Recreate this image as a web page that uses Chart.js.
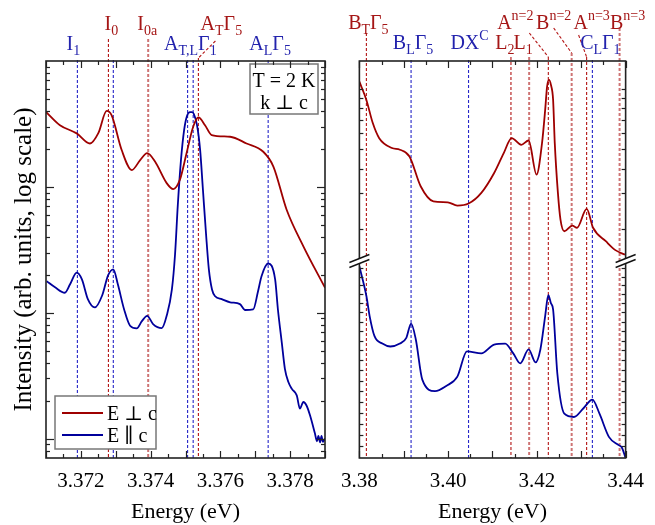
<!DOCTYPE html>
<html>
<head>
<meta charset="utf-8">
<script src="https://cdn.jsdelivr.net/npm/chart.js@4.4.1/dist/chart.umd.min.js"></script>
<style>
  html, body { margin: 0; padding: 0; background: #fff; }
  #wrap { position: relative; width: 655px; height: 525px; font-family: "Liberation Serif", "DejaVu Serif", serif; }
  canvas { position: absolute; top: 0; }
  #left { left: 0; }
  #right { left: 330px; }
</style>
</head>
<body>
<div id="wrap">
  <canvas id="left" width="330" height="525"></canvas>
  <canvas id="right" width="325" height="525"></canvas>
</div>
<script>
// Left panel, E perp c (red)
const leftEPerp = [3.3710, 3.3714, 3.37188, 3.37226, 3.3725, 3.37274, 3.37288, 3.37317, 3.37346, 3.3737, 3.3739, 3.37413, 3.37446, 3.37465, 3.37484, 3.37503, 3.37522, 3.37537, 3.37556, 3.37575, 3.37628, 3.37675, 3.37723, 3.37752, 3.3779, 3.37838, 3.379];
const leftIPerp = [394, 309, 266, 221, 267, 401, 371, 196, 136, 163, 185, 158, 107, 96, 114, 185, 300, 356, 309, 258, 250, 221, 190, 145, 65.8, 33.7, 15.8];

// Left panel, E parallel c (blue)
const leftEPar = [3.37102, 3.37126, 3.37154, 3.37169, 3.37188, 3.37203, 3.3722, 3.3724, 3.37261, 3.37278, 3.37293, 3.37306, 3.37324, 3.37341, 3.3736, 3.37375, 3.3739, 3.37407, 3.37432, 3.37446, 3.37461, 3.3747, 3.37478, 3.37487, 3.37496, 3.37504, 3.37513, 3.37519, 3.37524, 3.37533, 3.37542, 3.3755, 3.37559, 3.37567, 3.37576, 3.37585, 3.37604, 3.37628, 3.37656, 3.37671, 3.37694, 3.37708, 3.37718, 3.37737, 3.37757, 3.37765, 3.37776, 3.37785, 3.37795, 3.37805, 3.37819, 3.37828, 3.37838, 3.37847, 3.37857, 3.37871, 3.37877, 3.37881, 3.37886, 3.3789, 3.37894, 3.379];
const leftIPar = [17.8, 15.9, 14.4, 16.8, 20.8, 18.4, 12.8, 11.0, 13.7, 19.8, 22.1, 16.8, 10.6, 7.87, 7.50, 8.56, 9.44, 8.12, 7.54, 9.44, 15.3, 29.0, 72.1, 163, 282, 364, 392, 392, 378, 309, 196, 94.7, 41.8, 22.1, 15.3, 13.5, 12.8, 12.1, 11.7, 10.5, 10.6, 14.8, 19.5, 24.6, 18.4, 10.6, 5.81, 3.58, 2.81, 2.48, 2.20, 1.73, 1.95, 1.83, 1.53, 1.10, 0.95, 1.05, 0.93, 1.05, 0.94, 1.0];

// Right panel, E perp c (red, upper part of the broken axis)
const rightEPerp = [3.3800, 3.38158, 3.38302, 3.38447, 3.38734, 3.38913, 3.39129, 3.39381, 3.39668, 3.39992, 3.40208, 3.40461, 3.40748, 3.41037, 3.41253, 3.41432, 3.41648, 3.41814, 3.41993, 3.42116, 3.42187, 3.4223, 3.42273, 3.42317, 3.42366, 3.42403, 3.42474, 3.42532, 3.42619, 3.42798, 3.42906, 3.43122, 3.43266, 3.43553, 3.43769, 3.43985];
const rightIPerp = [1090, 883, 676, 568, 507, 497, 460, 326, 274, 271, 261, 267, 302, 380, 478, 568, 526, 553, 373, 536, 787, 1030, 1112, 1050, 883, 538, 302, 222, 194, 207, 202, 251, 202, 173, 156, 148];

// Right panel, E parallel c (blue, lower part)
const rightEPar = [3.38, 3.38158, 3.38231, 3.38339, 3.38518, 3.38697, 3.38913, 3.39058, 3.39166, 3.39273, 3.39418, 3.39705, 3.39958, 3.40208, 3.40424, 3.40748, 3.41037, 3.41287, 3.41468, 3.41626, 3.41814, 3.41971, 3.42079, 3.42187, 3.42258, 3.42317, 3.42366, 3.42461, 3.42619, 3.42835, 3.4305, 3.43251, 3.43411, 3.43627, 3.43843, 3.43914, 3.44];
const rightIPar = [69.2, 65.8, 63.6, 61.5, 60.7, 60.4, 60.7, 61.3, 62.8, 61.1, 57.1, 56.0, 56.5, 57.4, 59.9, 59.7, 60.6, 60.7, 59.7, 58.7, 60.1, 58.8, 60.1, 63.6, 65.9, 65.0, 64.3, 57.7, 53.9, 53.6, 54.4, 55.2, 53.9, 51.8, 51.1, 50.9, 50.0];

// tick labels and tick values
const leftXLabels = [3.372, 3.374, 3.376, 3.378];
const rightXLabels = [3.38, 3.40, 3.42, 3.44];
const leftYMajor = [1, 10, 100, 1000];
const rightTopTicks = [200, 300, 400, 500, 600, 700, 800, 900, 1000];
const rightBotTicks = [50, 51, 52, 53, 54, 55, 56, 57, 58, 59, 60, 61, 62, 63, 64, 65, 66, 67, 68, 69, 70];

// transition energies (dashed lines) and their labels
// kind: b = blue, r = dark red, p = pale red
const leftLines = [
  { e: 3.37190, kind: 'b', top: 60 },
  { e: 3.37279, kind: 'r', top: 39 },
  { e: 3.37293, kind: 'b', top: 60 },
  { e: 3.37393, kind: 'p', top: 39 },
  { e: 3.37506, kind: 'b', top: 60 },
  { e: 3.37522, kind: 'b', top: 60 },
  { e: 3.37537, kind: 'r', top: 58, lead: [17, 41] },
  { e: 3.37737, kind: 'b', top: 60 }
];
const leftLabels = [
  { e: 3.37190, dx: -4, y: 50, c: 'b', parts: [['I', 0], ['1', -1]] },
  { e: 3.37279, dx: 3, y: 30, c: 'r', parts: [['I', 0], ['0', -1]] },
  { e: 3.37393, dx: -1, y: 30, c: 'r', parts: [['I', 0], ['0a', -1]] },
  { e: 3.37514, dx: 0, y: 50, c: 'b', parts: [['A', 0], ['T,L', -1], ['Γ', 0], ['1', -1]] },
  { e: 3.37537, dx: 23, y: 30, c: 'r', parts: [['A', 0], ['T', -1], ['Γ', 0], ['5', -1]] },
  { e: 3.37737, dx: 2, y: 50, c: 'b', parts: [['A', 0], ['L', -1], ['Γ', 0], ['5', -1]] }
];
const rightLines = [
  { e: 3.38158, kind: 'r', top: 33 },
  { e: 3.39165, kind: 'b', top: 60 },
  { e: 3.40460, kind: 'b', top: 60 },
  { e: 3.41416, kind: 'r', top: 57 },
  { e: 3.41826, kind: 'p', top: 57 },
  { e: 3.42258, kind: 'r', top: 57, lead: [-19, 33] },
  { e: 3.42784, kind: 'p', top: 53, lead: [-18, 28] },
  { e: 3.43121, kind: 'r', top: 57, lead: [-8, 35] },
  { e: 3.43251, kind: 'b', top: 60 },
  { e: 3.43864, kind: 'p', top: 28 }
];
const rightLabels = [
  { e: 3.38158, dx: 2, y: 29, c: 'r', parts: [['B', 0], ['T', -1], ['Γ', 0], ['5', -1]] },
  { e: 3.39165, dx: 2, y: 49, c: 'b', parts: [['B', 0], ['L', -1], ['Γ', 0], ['5', -1]] },
  { e: 3.40460, dx: 1, y: 49, c: 'b', parts: [['DX', 0], ['C', 1]] },
  { e: 3.41416, dx: -6, y: 49, c: 'r', parts: [['L', 0], ['2', -1]] },
  { e: 3.41826, dx: -6, y: 49, c: 'r', parts: [['L', 0], ['1', -1]] },
  { e: 3.42258, dx: -33, y: 29, c: 'r', parts: [['A', 0], ['n=2', 1]] },
  { e: 3.42784, dx: -18, y: 29, c: 'r', parts: [['B', 0], ['n=2', 1]] },
  { e: 3.43121, dx: 5, y: 29, c: 'r', parts: [['A', 0], ['n=3', 1]] },
  { e: 3.43251, dx: 8, y: 49, c: 'b', parts: [['C', 0], ['L', -1], ['Γ', 0], ['1', -1]] },
  { e: 3.43864, dx: 8, y: 29, c: 'r', parts: [['B', 0], ['n=3', 1]] }
];

const RED = '#9e0000';
const BLUE = '#00009c';
const LABEL_COL = { r: '#a51616', b: '#2323ad' };
const LINE_STYLE = {
  b: { color: '#2626c8', width: 1.1, dash: [3, 2] },
  r: { color: '#b31515', width: 1.1, dash: [3, 2] },
  p: { color: 'rgba(190, 70, 70, 0.75)', width: 2, dash: [3, 2] }
};
const SERIF = '"Liberation Serif", "DejaVu Serif", serif';
Chart.defaults.font.family = SERIF;
Chart.defaults.color = '#000';

function richText(ctx, cx, y, parts, color) {
  let w = 0;
  parts.forEach(([t, k]) => {
    ctx.font = (k === 0 ? 20 : 14) + 'px ' + SERIF;
    w += ctx.measureText(t).width;
  });
  let x = cx - w / 2;
  ctx.fillStyle = color;
  ctx.textAlign = 'left';
  ctx.textBaseline = 'alphabetic';
  parts.forEach(([t, k]) => {
    ctx.font = (k === 0 ? 20 : 14) + 'px ' + SERIF;
    const dy = k === -1 ? 5 : k === 1 ? -9 : 0;
    ctx.fillText(t, x, y + dy);
    x += ctx.measureText(t).width;
  });
}

function seg(ctx, x1, y1, x2, y2) {
  ctx.beginPath();
  ctx.moveTo(x1, y1);
  ctx.lineTo(x2, y2);
  ctx.stroke();
}

// log ticks: long at powers of ten, short at 2..9
function logTicks(min, max, majors) {
  const out = [];
  majors.forEach(m => {
    if (m >= min && m <= max) out.push([m, 8]);
    for (let k = 2; k < 10; k++) {
      const v = m * k;
      if (v >= min && v <= max) out.push([v, 4]);
      const w = m * k / 10;
      if (w >= min && w <= max && majors.indexOf(m / 10) < 0) out.push([w, 4]);
    }
  });
  return out;
}

const marks = {
  id: 'marks',
  beforeDatasetsDraw(chart, args, o) {
    const ctx = chart.ctx, a = chart.chartArea, xs = chart.scales.x;
    o.lines.forEach(l => {
      const st = LINE_STYLE[l.kind];
      const px = xs.getPixelForValue(l.e);
      ctx.save();
      ctx.strokeStyle = st.color;
      ctx.lineWidth = st.width;
      ctx.setLineDash(st.dash);
      seg(ctx, px, l.top, px, a.bottom);
      if (l.lead) {
        ctx.lineWidth = 1.1;
        ctx.strokeStyle = LINE_STYLE.r.color;
        seg(ctx, px + l.lead[0], l.lead[1], px, l.top);
      }
      ctx.restore();
    });
  },
  afterDatasetsDraw(chart, args, o) {
    const ctx = chart.ctx, a = chart.chartArea, xs = chart.scales.x;
    ctx.save();
    if (o.boxes) o.boxes(ctx, a);

    ctx.strokeStyle = '#222';
    ctx.lineWidth = 1.2;
    o.xTicks.forEach(([v, len]) => {
      const px = Math.round(xs.getPixelForValue(v)) + 0.5;
      seg(ctx, px, a.bottom, px, a.bottom - len);
      seg(ctx, px, a.top, px, a.top + len);
    });
    o.yTicks.forEach(([id, list]) => {
      const ys = chart.scales[id];
      list.forEach(([v, len]) => {
        const py = Math.round(ys.getPixelForValue(v)) + 0.5;
        if (py < ys.top + 2 || py > ys.bottom - 2) return;
        seg(ctx, a.left, py, a.left + len, py);
        seg(ctx, a.right, py, a.right - len, py);
      });
    });

    ctx.lineWidth = 1.6;
    ctx.strokeRect(a.left, a.top, a.right - a.left, a.bottom - a.top);

    if (o.breakAxes) {
      const y = Math.min(...o.breakAxes.map(id => chart.scales[id].bottom));
      [a.left, a.right].forEach(x => {
        ctx.fillStyle = '#fff';
        ctx.beginPath();
        ctx.moveTo(x - 9, y + 3);
        ctx.lineTo(x + 9, y - 4);
        ctx.lineTo(x + 9, y + 1);
        ctx.lineTo(x - 9, y + 8);
        ctx.closePath();
        ctx.fill();
        ctx.strokeStyle = '#111';
        ctx.lineWidth = 1.4;
        seg(ctx, x - 10, y + 3, x + 10, y - 5);
        seg(ctx, x - 10, y + 8, x + 10, y);
      });
    }

    o.labels.forEach(l => {
      richText(ctx, xs.getPixelForValue(l.e) + l.dx, l.y, l.parts, LABEL_COL[l.c]);
    });
    ctx.restore();
  }
};

function leftBoxes(ctx, a) {
  // legend
  const lx = a.left + 9, ly = a.bottom - 62, lw = 101, lh = 53;
  ctx.fillStyle = '#fff';
  ctx.fillRect(lx, ly, lw, lh);
  ctx.strokeStyle = '#777';
  ctx.lineWidth = 1.5;
  ctx.strokeRect(lx, ly, lw, lh);
  ctx.lineWidth = 1.8;
  ctx.strokeStyle = RED;
  seg(ctx, lx + 7, ly + 17, lx + 48, ly + 17);
  ctx.strokeStyle = BLUE;
  seg(ctx, lx + 7, ly + 39, lx + 48, ly + 39);
  ctx.fillStyle = '#000';
  ctx.font = '20px ' + SERIF;
  ctx.textAlign = 'left';
  ctx.textBaseline = 'alphabetic';
  ctx.fillText('E ⊥ c', lx + 52, ly + 24);
  ctx.fillText('E ∥ c', lx + 52, ly + 46);
  // conditions box
  const bx = a.right - 75, by = a.top + 3, bw = 68, bh = 50;
  ctx.fillStyle = '#fff';
  ctx.fillRect(bx, by, bw, bh);
  ctx.strokeStyle = '#777';
  ctx.lineWidth = 1.5;
  ctx.strokeRect(bx, by, bw, bh);
  ctx.fillStyle = '#000';
  ctx.textAlign = 'center';
  ctx.fillText('T = 2 K', bx + bw / 2, by + 23);
  ctx.fillText('k ⊥ c', bx + bw / 2, by + 45);
}

const leftXTicks = [];
for (let i = 0; i <= 16; i++) leftXTicks.push([3.371 + i * 0.0005, i % 2 === 0 ? 7 : 4]);
const rightXTicks = [];
for (let i = 0; i <= 12; i++) rightXTicks.push([3.38 + i * 0.005, i % 2 === 0 ? 7 : 4]);

const tickFont = { family: SERIF, size: 21 };
const titleFont = { family: SERIF, size: 22 };

function xAxis(min, max, labels, digits) {
  return {
    type: 'linear', min: min, max: max,
    afterFit: s => { s.height = 67; },
    afterBuildTicks: s => { s.ticks = labels.map(v => ({ value: v })); },
    ticks: { font: tickFont, color: '#000', maxRotation: 0, padding: 11, autoSkip: false,
      callback: v => Number(v).toFixed(digits) },
    grid: { display: false, drawTicks: false },
    border: { display: false },
    title: { display: true, text: 'Energy (eV)', font: titleFont, color: '#000', padding: { top: 0, bottom: 0 } }
  };
}

function makeCharts() {
  new Chart(document.getElementById('left'), {
    type: 'line',
    data: {
      datasets: [
        { label: 'E ⊥ c', data: leftEPerp.map((e, i) => ({ x: e, y: leftIPerp[i] })),
          borderColor: RED, borderWidth: 1.8, pointRadius: 0, cubicInterpolationMode: 'monotone' },
        { label: 'E ∥ c', data: leftEPar.map((e, i) => ({ x: e, y: leftIPar[i] })),
          borderColor: BLUE, borderWidth: 1.8, pointRadius: 0, cubicInterpolationMode: 'monotone' }
      ]
    },
    options: {
      responsive: false,
      animation: false,
      layout: { padding: { top: 61, right: 5, left: 0, bottom: 0 } },
      plugins: {
        legend: { display: false },
        tooltip: { enabled: false },
        marks: {
          lines: leftLines, labels: leftLabels, boxes: leftBoxes, xTicks: leftXTicks,
          yTicks: [['y', logTicks(0.72, 1000, leftYMajor)]]
        }
      },
      scales: {
        x: xAxis(3.371, 3.379, leftXLabels, 3),
        y: {
          type: 'logarithmic', min: 0.72, max: 1000,
          afterFit: s => { s.width = 46; },
          ticks: { display: false },
          grid: { display: false, drawTicks: false },
          border: { display: false },
          title: { display: true, text: 'Intensity (arb. units, log scale)', font: { family: SERIF, size: 25 },
            color: '#000', padding: { top: 9, bottom: 0 } }
        }
      }
    },
    plugins: [marks]
  });

  new Chart(document.getElementById('right'), {
    type: 'line',
    data: {
      datasets: [
        { label: 'E ⊥ c', yAxisID: 'yTop', data: rightEPerp.map((e, i) => ({ x: e, y: rightIPerp[i] })),
          borderColor: RED, borderWidth: 1.8, pointRadius: 0, cubicInterpolationMode: 'monotone' },
        { label: 'E ∥ c', yAxisID: 'yBot', data: rightEPar.map((e, i) => ({ x: e, y: rightIPar[i] })),
          borderColor: BLUE, borderWidth: 1.8, pointRadius: 0, cubicInterpolationMode: 'monotone' }
      ]
    },
    options: {
      responsive: false,
      animation: false,
      layout: { padding: { top: 61, right: 21, left: 0, bottom: 0 } },
      plugins: {
        legend: { display: false },
        tooltip: { enabled: false },
        marks: {
          lines: rightLines, labels: rightLabels, xTicks: rightXTicks, breakAxes: ['yTop', 'yBot'],
          yTicks: [['yTop', rightTopTicks.map(v => [v, 4])], ['yBot', rightBotTicks.map(v => [v, 4])]]
        }
      },
      scales: {
        x: xAxis(3.38, 3.44, rightXLabels, 2),
        // stacked axes: the one listed last is placed at the top
        yBot: {
          type: 'logarithmic', position: 'left', stack: 'r', stackWeight: 1, min: 50, max: 70,
          afterFit: s => { s.width = 26; },
          ticks: { display: false }, grid: { display: false, drawTicks: false }, border: { display: false }
        },
        yTop: {
          type: 'logarithmic', position: 'left', stack: 'r', stackWeight: 1, min: 140, max: 1384,
          afterFit: s => { s.width = 26; },
          ticks: { display: false }, grid: { display: false, drawTicks: false }, border: { display: false }
        }
      }
    },
    plugins: [marks]
  });
}

const fontLoads = ['20px "Liberation Serif"', '14px "Liberation Serif"'].map(f => document.fonts.load(f, 'IΓ⊥∥'));
Promise.all(fontLoads).then(makeCharts, makeCharts);
</script>
</body>
</html>
